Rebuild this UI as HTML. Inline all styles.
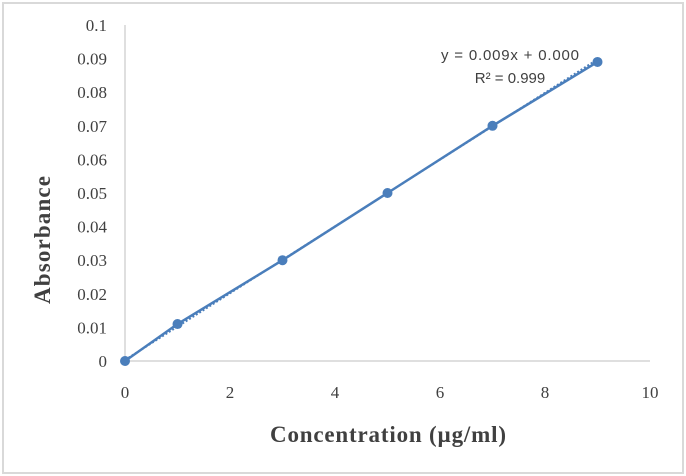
<!DOCTYPE html>
<html><head><meta charset="utf-8"><style>
html,body{margin:0;padding:0;background:#fff;}
svg{display:block;font-family:"Liberation Serif",serif;}
</style></head><body>
<svg id="chart" width="686" height="476">
<rect x="3" y="3" width="680" height="470" fill="#fff" stroke="#d9d9d9" stroke-width="2"/>
<g id="yt"></g>
<g id="xt"></g>
<line x1="125" y1="25" x2="125" y2="361" stroke="#bfbfbf"/>
<line x1="125" y1="361" x2="650" y2="361" stroke="#bfbfbf"/>
<g id="series"></g>
<text x="510" y="60" font-family="Liberation Sans, sans-serif" font-size="15" fill="#404040" text-anchor="middle" textLength="138">y = 0.009x + 0.000</text>
<text x="510" y="83" font-family="Liberation Sans, sans-serif" font-size="15" fill="#404040" text-anchor="middle">R² = 0.999</text>
<text x="388" y="442" font-size="23" font-weight="bold" fill="#404040" text-anchor="middle" textLength="236">Concentration (µg/ml)</text>
<text transform="translate(50,240) rotate(-90)" font-size="23" font-weight="bold" fill="#404040" text-anchor="middle" textLength="128">Absorbance</text>
</svg>
<script>
const xValues=[0,1,3,5,7,9];
const yValues=[0,0.011,0.03,0.05,0.07,0.089];
const yTicks=["0","0.01","0.02","0.03","0.04","0.05","0.06","0.07","0.08","0.09","0.1"];
const xTicks=["0","2","4","6","8","10"];
const slope=0.00994, intercept=0.0003;
const NS="http://www.w3.org/2000/svg";
const sx=v=>125+v*52.5, sy=v=>361-v*3360;
function mk(t,a,p){const e=document.createElementNS(NS,t);for(const k in a)e.setAttribute(k,a[k]);p.appendChild(e);return e;}
const yt=document.getElementById('yt');
yTicks.forEach(t=>{const e=mk('text',{x:107,y:sy(+t)+6,'font-size':17,fill:'#404040','text-anchor':'end'},yt);e.textContent=t;

});
const xt=document.getElementById('xt');
xTicks.forEach(t=>{const e=mk('text',{x:sx(+t),y:398,'font-size':17,fill:'#404040','text-anchor':'middle'},xt);e.textContent=t;

});
const g=document.getElementById('series');
const tl=mk('line',{x1:sx(0),y1:sy(intercept),x2:sx(9),y2:sy(intercept+slope*9),stroke:'#4a7ebb','stroke-width':2,'stroke-dasharray':'2,2'},g);


const pl=mk('polyline',{points:xValues.map((x,i)=>sx(x)+','+sy(yValues[i])).join(' '),fill:'none',stroke:'#4a7ebb','stroke-width':2.5},g);


xValues.forEach((x,i)=>{const c=mk('circle',{cx:sx(x),cy:sy(yValues[i]),r:5,fill:'#4a7ebb'},g);

});
</script>
</body></html>
